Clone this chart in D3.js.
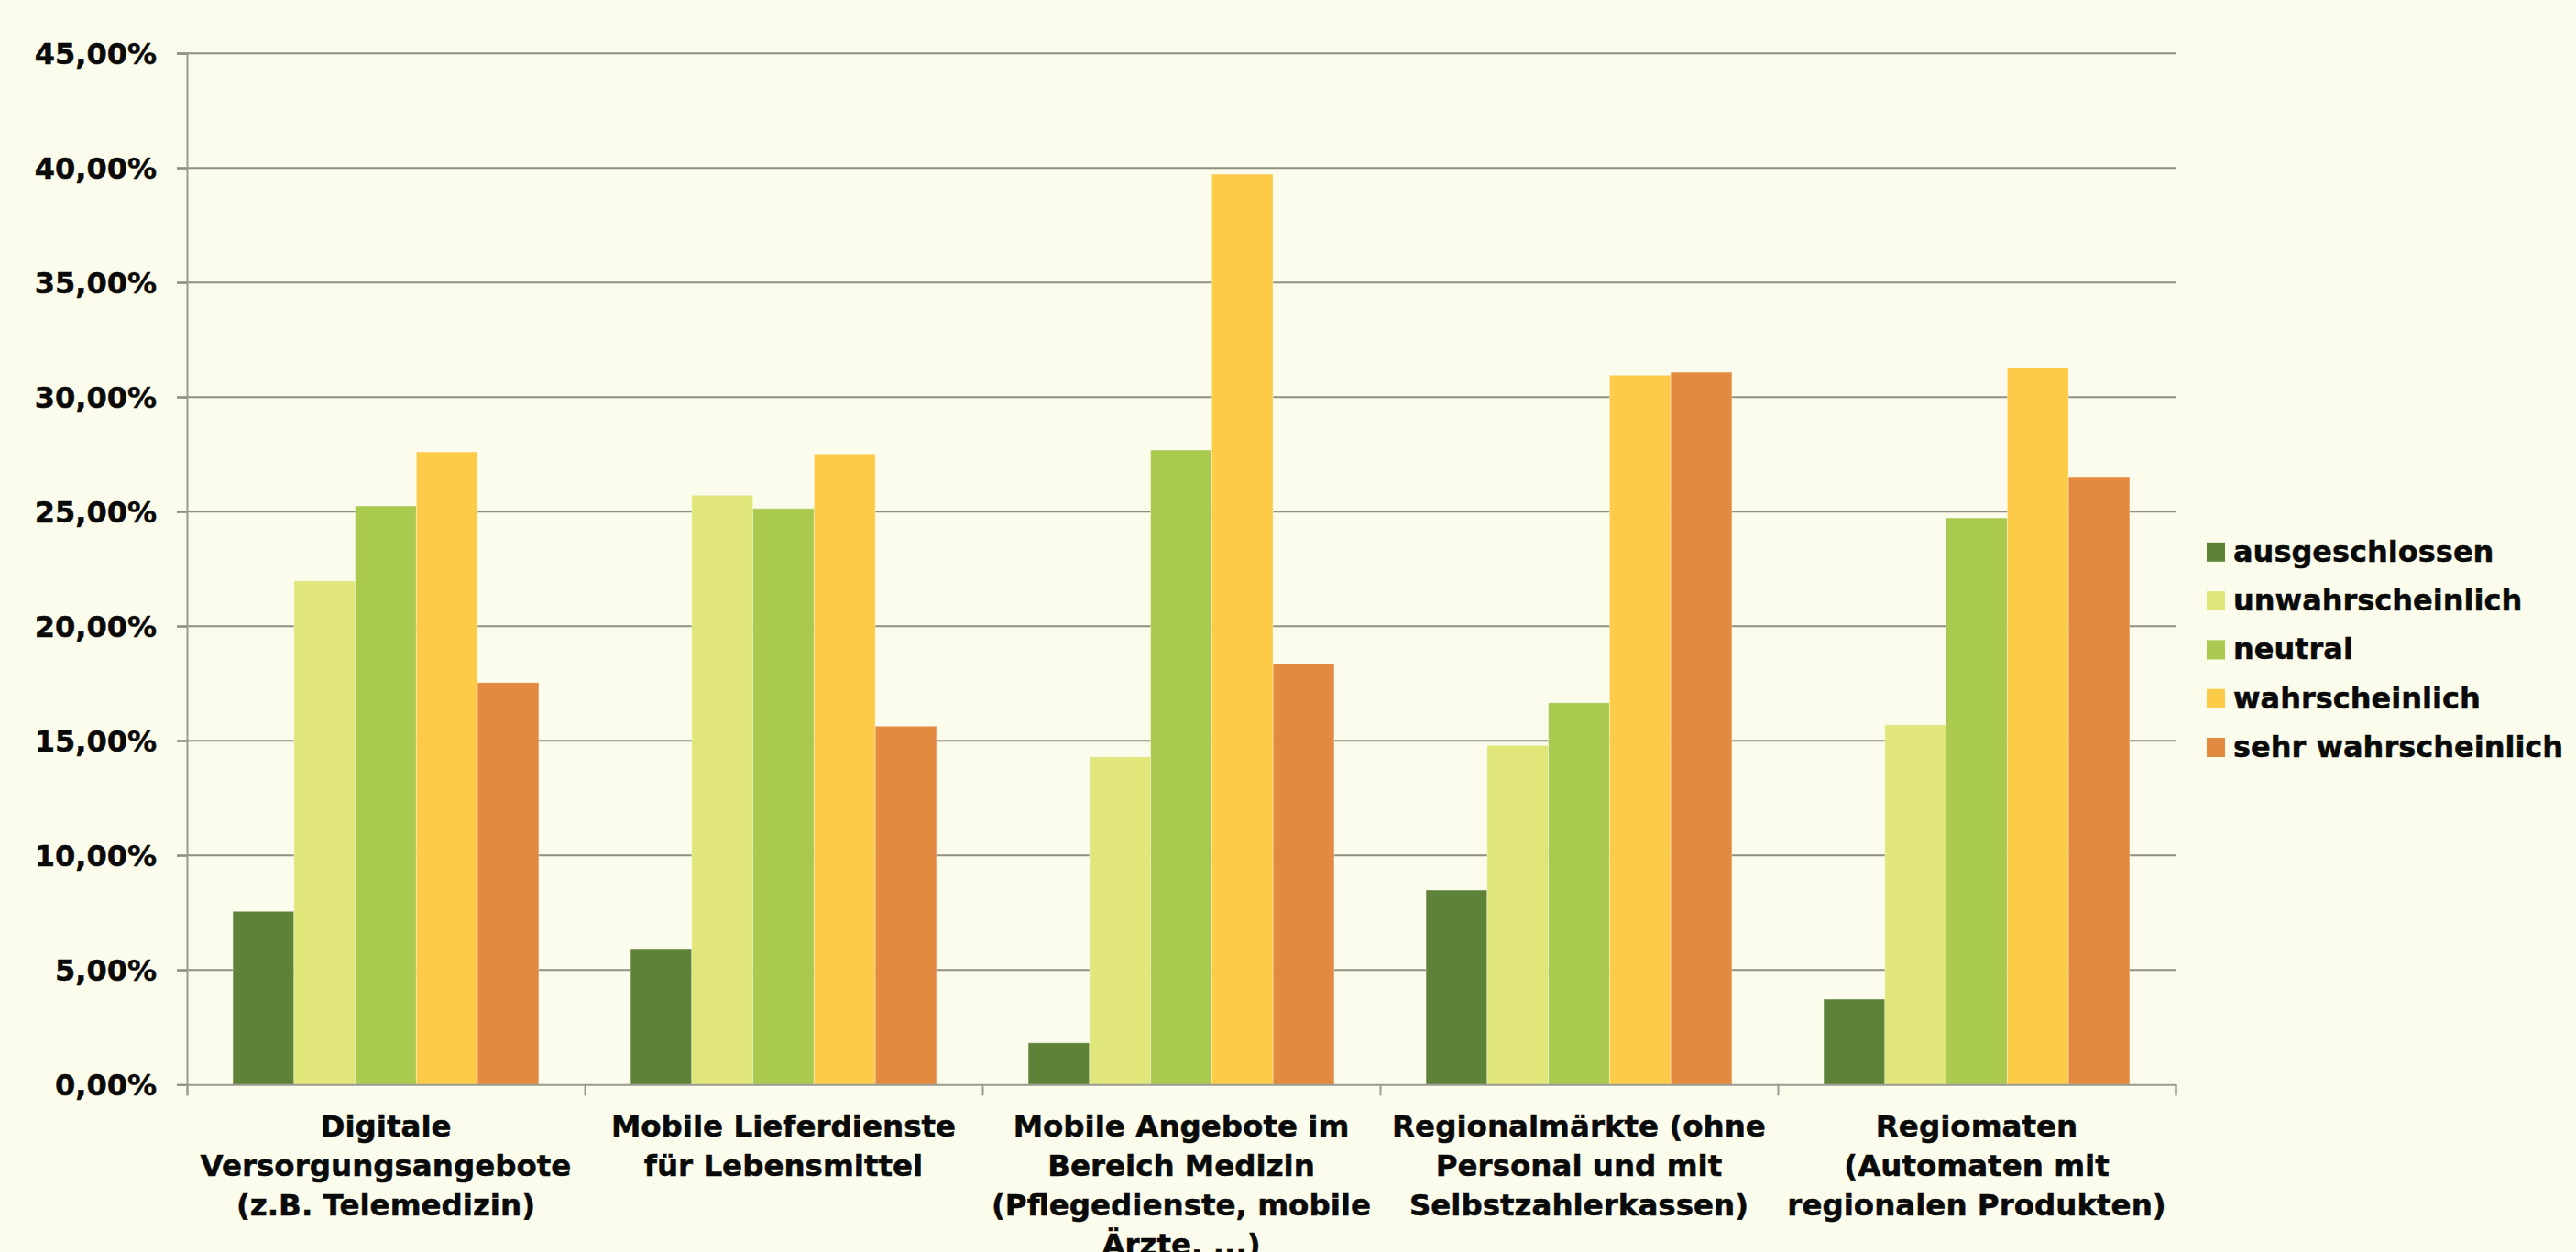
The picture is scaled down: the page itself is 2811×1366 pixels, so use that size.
<!DOCTYPE html>
<html>
<head>
<meta charset="utf-8">
<script src="https://cdn.jsdelivr.net/npm/d3@7"></script>
<style>
  html, body { margin: 0; padding: 0; background: #FBFCEB; }
  svg { display: block; }
  text { font-family: "DejaVu Sans", sans-serif; font-weight: bold; fill: #0a0a0a; stroke: #0a0a0a; stroke-width: 0.5px; }
</style>
</head>
<body>
<svg id="chart" width="2811" height="1366"></svg>
<script>
// ---- data ----
const categories = [
  "Digitale Versorgungsangebote (z.B. Telemedizin)",
  "Mobile Lieferdienste für Lebensmittel",
  "Mobile Angebote im Bereich Medizin (Pflegedienste, mobile Ärzte, ...)",
  "Regionalmärkte (ohne Personal und mit Selbstzahlerkassen)",
  "Regiomaten (Automaten mit regionalen Produkten)"
];
const categoryLines = [
  ["Digitale", "Versorgungsangebote", "(z.B. Telemedizin)"],
  ["Mobile Lieferdienste", "für Lebensmittel"],
  ["Mobile Angebote im", "Bereich Medizin", "(Pflegedienste, mobile", "Ärzte, ...)"],
  ["Regionalmärkte (ohne", "Personal und mit", "Selbstzahlerkassen)"],
  ["Regiomaten", "(Automaten mit", "regionalen Produkten)"]
];
const seriesNames = ["ausgeschlossen", "unwahrscheinlich", "neutral", "wahrscheinlich", "sehr wahrscheinlich"];
const ausgeschlossen      = [7.56, 5.93, 1.82, 8.49, 3.73];
const unwahrscheinlich    = [21.98, 25.72, 14.30, 14.80, 15.70];
const neutral             = [25.25, 25.14, 27.69, 16.66, 24.73];
const wahrscheinlich      = [27.61, 27.52, 39.73, 30.96, 31.29];
const sehrWahrscheinlich  = [17.54, 15.64, 18.36, 31.09, 26.53];
const seriesValues = [ausgeschlossen, unwahrscheinlich, neutral, wahrscheinlich, sehrWahrscheinlich];
const seriesColors = ["#5E8338", "#E0E67A", "#A9C94F", "#FCCC48", "#E18A40"];
const yTicks = [0, 5, 10, 15, 20, 25, 30, 35, 40, 45];

// ---- layout ----
const svg = d3.select("#chart");
const W = 2811, H = 1366;
const plot = { left: 204, right: 2374, top: 58.3, bottom: 1183.3 };

svg.append("rect").attr("width", W).attr("height", H).attr("fill", "#FBFCEB");

const x0 = d3.scaleBand().domain(categories).range([plot.left, plot.right])
  .paddingInner(1.5 / 6.5).paddingOuter(0.75 / 6.5);
const x1 = d3.scaleBand().domain(seriesNames).range([0, x0.bandwidth()]).padding(0);
const y = d3.scaleLinear().domain([0, 45]).range([plot.bottom, plot.top]);

// gridlines
svg.append("g").selectAll("line").data(yTicks.filter(d => d > 0)).join("line")
  .attr("x1", plot.left - 11).attr("x2", plot.right + 1)
  .attr("y1", d => y(d)).attr("y2", d => y(d))
  .attr("stroke", "#8F9080").attr("stroke-width", 2);

// y axis
const yAxis = d3.axisLeft(y).tickValues(yTicks).tickSize(11).tickPadding(22)
  .tickFormat(d => d.toFixed(2).replace(".", ",") + "%");
const gy = svg.append("g").attr("transform", `translate(${plot.left},0)`).call(yAxis);
gy.select(".domain").attr("stroke", "#9A9A90").attr("stroke-width", 2);
gy.selectAll(".tick line").attr("stroke", "#8F9080").attr("stroke-width", 2);
gy.selectAll(".tick text").attr("font-size", 32).attr("font-family", "DejaVu Sans")
  .attr("font-weight", "bold").attr("fill", "#0a0a0a").attr("dy", "0.36em");

// bars
const groups = svg.append("g").selectAll("g").data(categories).join("g")
  .attr("transform", c => `translate(${x0(c)},0)`);
groups.selectAll("rect")
  .data((c, i) => seriesNames.map((s, j) => ({ s, v: seriesValues[j][i], color: seriesColors[j] })))
  .join("rect")
  .attr("x", d => x1(d.s))
  .attr("width", x1.bandwidth())
  .attr("y", d => y(d.v))
  .attr("height", d => y(0) - y(d.v))
  .attr("fill", d => d.color)
  .attr("stroke", "rgba(255,255,255,0.35)").attr("stroke-width", 1);

// x axis (boundaries)
const xb = d3.scaleLinear().domain([0, categories.length]).range([plot.left, plot.right]);
const xAxis = d3.axisBottom(xb).tickValues(d3.range(categories.length + 1)).tickSize(12).tickFormat("");
const gx = svg.append("g").attr("transform", `translate(0,${plot.bottom})`).call(xAxis);
gx.select(".domain").attr("stroke", "#9A9A90").attr("stroke-width", 2);
gx.selectAll(".tick line").attr("stroke", "#9A9A90").attr("stroke-width", 2);

// category labels
const labelG = svg.append("g").selectAll("text").data(categories).join("text")
  .attr("text-anchor", "middle")
  .attr("font-size", 32.5)
  .attr("x", c => x0(c) + x0.bandwidth() / 2)
  .attr("y", 1240);
labelG.each(function (c, i) {
  d3.select(this).selectAll("tspan").data(categoryLines[i]).join("tspan")
    .attr("x", x0(c) + x0.bandwidth() / 2)
    .attr("dy", (d, k) => k === 0 ? 0 : 43)
    .text(d => d);
});

// legend
const legend = svg.append("g").selectAll("g").data(seriesNames).join("g")
  .attr("transform", (d, i) => `translate(2408,${602.3 + i * 53.3})`);
legend.append("rect").attr("x", 0).attr("y", -10.5).attr("width", 20).attr("height", 21)
  .attr("fill", (d, i) => seriesColors[i]);
legend.append("text").attr("x", 29).attr("y", 10.5).attr("font-size", 32).text(d => d);
</script>
</body>
</html>
